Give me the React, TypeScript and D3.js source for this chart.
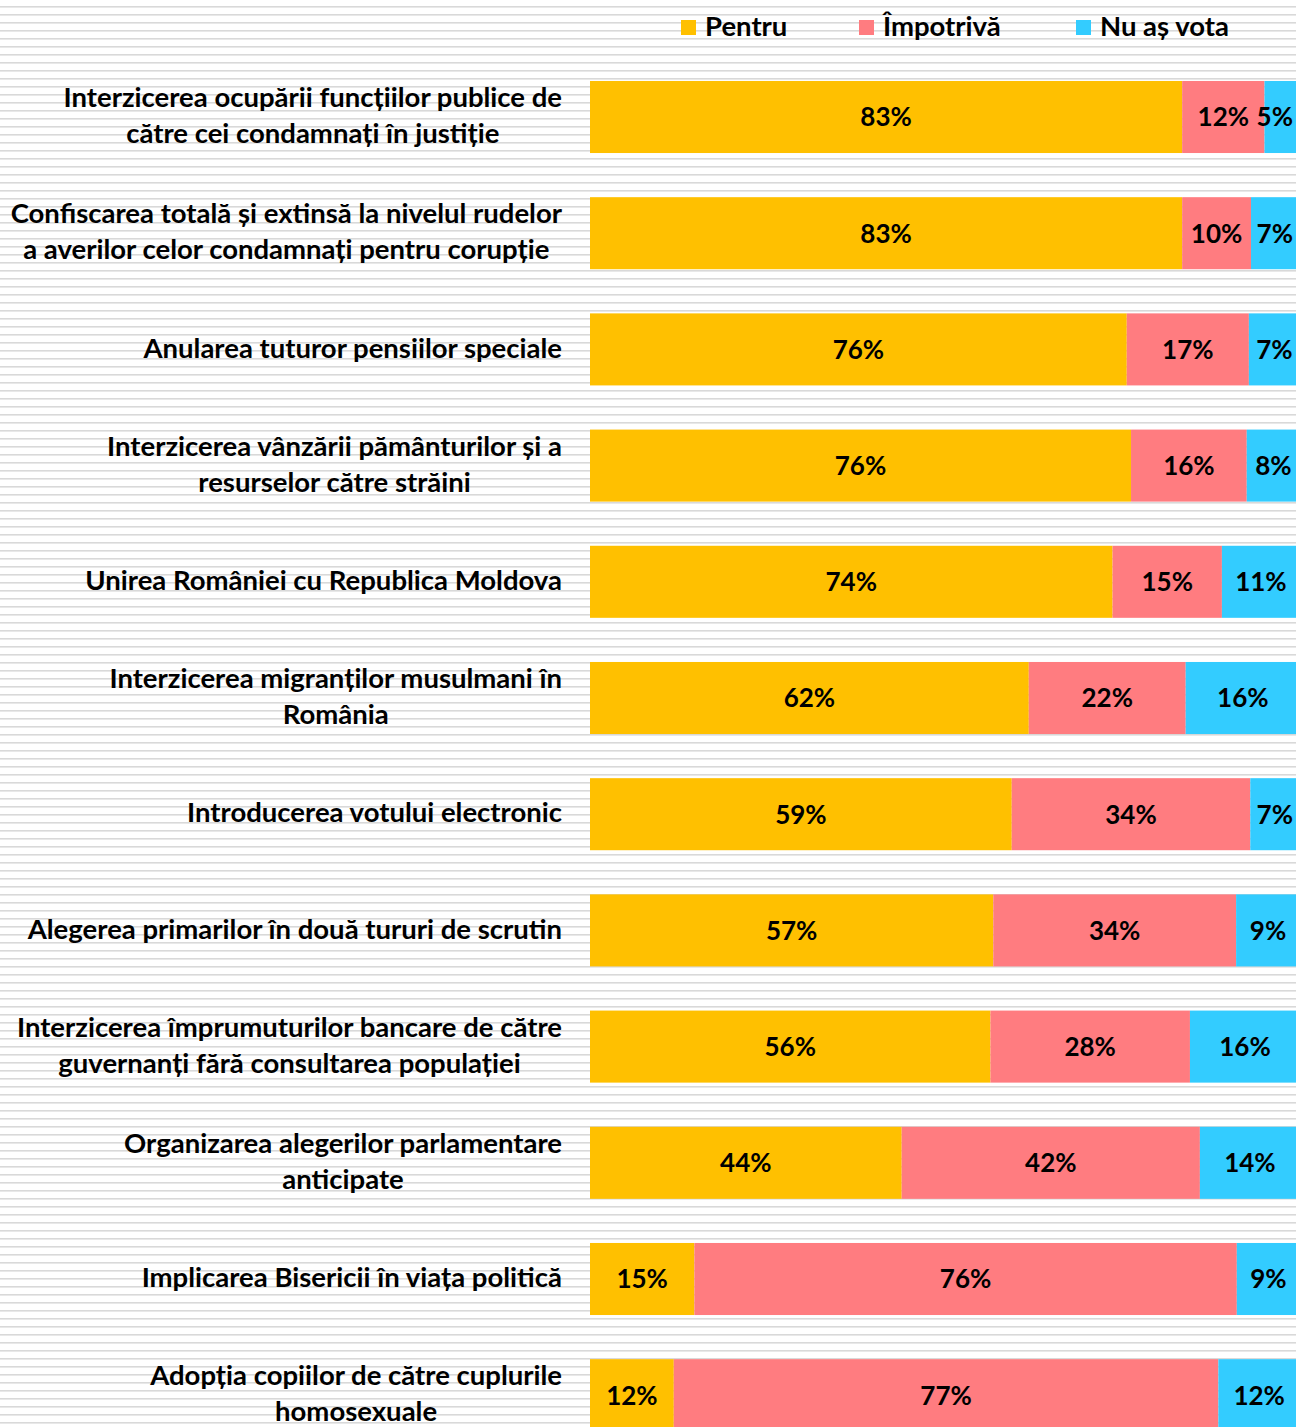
import React, { useEffect, useRef } from "react";
import * as d3 from "d3";

const categories = [
  "Interzicerea ocupării funcțiilor publice de\ncătre cei condamnați în justiție",
  "Confiscarea totală și extinsă la nivelul rudelor\na averilor celor condamnați pentru corupție",
  "Anularea tuturor pensiilor speciale",
  "Interzicerea vânzării pământurilor și a\nresurselor către străini",
  "Unirea României cu Republica Moldova",
  "Interzicerea migranților musulmani în\nRomânia",
  "Introducerea votului electronic",
  "Alegerea primarilor în două tururi de scrutin",
  "Interzicerea împrumuturilor bancare de către\nguvernanți fără consultarea populației",
  "Organizarea alegerilor parlamentare\nanticipate",
  "Implicarea Bisericii în viața politică",
  "Adopția copiilor de către cuplurile\nhomosexuale",
];

const pentru = [83.4, 83.4, 75.6, 76.2, 73.6, 61.8, 59.4, 56.8, 56.4, 43.9, 14.7, 11.8];
const impotriva = [11.6, 9.7, 17.2, 16.3, 15.4, 22.1, 33.6, 34.2, 28.1, 42.0, 76.4, 76.7];
const nuVota = [5.0, 6.9, 7.2, 7.5, 11.0, 16.1, 7.0, 9.0, 15.5, 14.1, 8.9, 11.5];

const seriesNames = ["Pentru", "Împotrivă", "Nu aș vota"];
const seriesKeys = ["pentru", "impotriva", "nuVota"];
const seriesColors = ["#FFC000", "#FF7C80", "#33CCFF"];

const WIDTH = 1296;
const HEIGHT = 1427;
const FONT = "Lato, 'DejaVu Sans', sans-serif";

export default function App() {
  const ref = useRef<SVGSVGElement>(null);

  useEffect(() => {
    const svg = d3.select(ref.current);
    svg.selectAll("*").remove();

    // striped background
    const stripes = d3.range(6, HEIGHT, 8);
    svg
      .append("g")
      .selectAll("rect")
      .data(stripes)
      .join("rect")
      .attr("x", 0)
      .attr("y", (d) => d)
      .attr("width", WIDTH)
      .attr("height", 1.6)
      .attr("fill", "#d9d9d9");

    const data = categories.map((c, i) => ({
      cat: c,
      pentru: pentru[i],
      impotriva: impotriva[i],
      nuVota: nuVota[i],
    }));

    const stack = d3.stack<any>().keys(seriesKeys);
    const stacked = stack(data);

    const x = d3.scaleLinear().domain([0, 100]).range([590, 1300]);
    const y = d3
      .scaleBand<string>()
      .domain(categories)
      .range([58.9, 58.9 + 116.2 * categories.length])
      .paddingInner(0.38)
      .paddingOuter(0.19);

    const bars = svg.append("g");
    stacked.forEach((s, si) => {
      const g = bars.append("g").attr("fill", seriesColors[si]);
      g.selectAll("rect")
        .data(s)
        .join("rect")
        .attr("x", (d) => x(d[0]))
        .attr("y", (d) => y(d.data.cat)!)
        .attr("width", (d) => x(d[1]) - x(d[0]))
        .attr("height", y.bandwidth());
    });

    const labels = svg.append("g").attr("font-family", FONT).attr("font-weight", 700);
    stacked.forEach((s) => {
      const t = labels
        .append("g")
        .selectAll("text")
        .data(s)
        .join("text")
        .attr("x", (d) => (x(d[0]) + x(d[1])) / 2)
        .attr("y", (d) => y(d.data.cat)! + y.bandwidth() / 2)
        .attr("dy", "0.36em")
        .attr("text-anchor", "middle")
        .attr("font-size", 26)
        .attr("fill", "#000")
        .text((d) => `${Math.round(d[1] - d[0])}%`);
      t.each(function (d) {
        const el = this as SVGTextElement;
        const w = el.getComputedTextLength();
        const cx = (x(d[0]) + x(d[1])) / 2;
        const maxCx = WIDTH - 3 - w / 2;
        if (cx > maxCx) d3.select(el).attr("x", maxCx);
      });
    });

    // category labels
    const catG = svg.append("g").attr("font-family", FONT).attr("font-weight", 700).attr("font-size", 27.5);
    categories.forEach((c) => {
      const lines = c.split("\n");
      const cy = y(c)! + y.bandwidth() / 2;
      const lh = 36;
      const texts = lines.map((line, li) =>
        catG
          .append("text")
          .attr("text-anchor", "middle")
          .attr("y", cy + (li - (lines.length - 1) / 2) * lh)
          .attr("dy", "0.3em")
          .attr("fill", "#000")
          .text(line)
      );
      const w = Math.max(...texts.map((t) => (t.node() as SVGTextElement).getComputedTextLength()));
      texts.forEach((t) => t.attr("x", 562 - w / 2));
    });

    // legend
    const legendX = [681, 859, 1076];
    const lg = svg.append("g").attr("font-family", FONT).attr("font-weight", 700);
    seriesNames.forEach((n, i) => {
      lg.append("rect")
        .attr("x", legendX[i])
        .attr("y", 20)
        .attr("width", 15)
        .attr("height", 15)
        .attr("fill", seriesColors[i]);
      lg.append("text")
        .attr("x", legendX[i] + 24)
        .attr("y", 27)
        .attr("dy", "0.33em")
        .attr("font-size", 27.5)
        .attr("fill", "#000")
        .text(n);
    });
  }, []);

  return (
    <svg
      ref={ref}
      width={WIDTH}
      height={HEIGHT}
      style={{ position: "absolute", left: 0, top: 0, background: "#fff" }}
    />
  );
}
